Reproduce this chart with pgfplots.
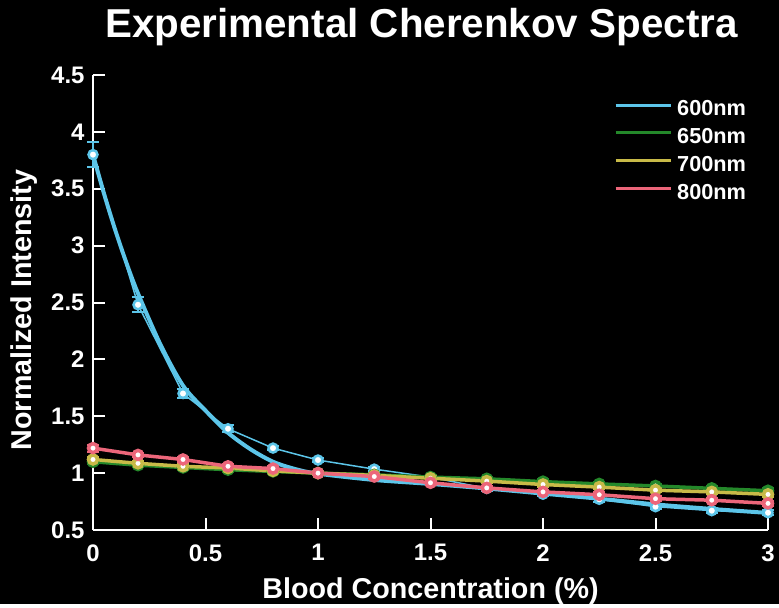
\documentclass[border=0pt]{standalone}
\usepackage{fontspec}
\setmainfont{Liberation Sans}
\usepackage{pgfplots}
\pgfplotsset{compat=1.18}
\definecolor{c600}{RGB}{92,197,233}
\definecolor{c650}{RGB}{36,136,42}
\definecolor{c700}{RGB}{200,186,72}
\definecolor{c800}{RGB}{236,102,122}
\pgfplotsset{
  errstyle/.style={error bars/y dir=both, error bars/y explicit,
    error bars/error bar style={line width=2bp, solid},
    error bars/error mark options={rotate=90, mark size=6bp, line width=2bp, solid}},
}
\begin{document}
\begin{tikzpicture}
\fill[black] (0,0) rectangle (779bp,604bp);
\begin{axis}[
  at={(93bp,74bp)}, anchor=south west,
  scale only axis, width=675bp, height=455bp,
  xmin=0, xmax=3, ymin=0.5, ymax=4.5,
  clip=false,
  axis lines*=left,
  axis line style={white, line width=2bp},
  xtick={0,0.5,1,1.5,2,2.5,3},
  ytick={0.5,1,1.5,2,2.5,3,3.5,4,4.5},
  tick style={white, line width=2bp},
  major tick length=12bp,
  tick align=inside,
  ticklabel style={white, font=\fontsize{24}{24}\selectfont\bfseries},
  xticklabel style={yshift=-11bp},
  yticklabel style={xshift=-5bp},
  /pgf/number format/assume math mode=true,
  xlabel={Blood Concentration (\%)},
  ylabel={Normalized Intensity},
  label style={white, font=\fontsize{28.8}{28.8}\selectfont\bfseries},
  xlabel style={at={(axis description cs:0.5,-0.1495)}, anchor=base},
  ylabel style={at={(axis description cs:-0.0904,0.4835)}, anchor=base},
  legend cell align=left,
  legend style={at={(axis description cs:0.7719,0.9440)}, anchor=north west,
    draw=none, fill=none, text=white,
    font=\fontsize{21.8}{21.8}\selectfont\bfseries,
    inner sep=0pt, nodes={inner sep=0pt, text height=15bp, text depth=0pt},
    row sep=12.8bp, /tikz/column sep=5bp},
  legend image code/.code={\draw[#1, line width=3bp] (0bp,3bp) -- (55bp,3bp);},
]
% 600 nm measured
\addplot[color=c600, line width=1.5bp, mark=*, mark size=4.5bp,
  mark options={fill=white, line width=2.5bp}, forget plot, errstyle]
  coordinates {
  (0,3.80) +- (0,0.11)
  (0.2,2.48) +- (0,0.065)
  (0.4,1.70) +- (0,0.04)
  (0.6,1.39) +- (0,0.03)
  (0.8,1.22) +- (0,0.02)
  (1.0,1.115) +- (0,0.02)
  (1.25,1.035) +- (0,0.02)
  (1.5,0.965) +- (0,0.02)
  (1.75,0.865) +- (0,0.02)
  (2.0,0.815) +- (0,0.02)
  (2.25,0.77) +- (0,0.02)
  (2.5,0.705) +- (0,0.02)
  (2.75,0.67) +- (0,0.02)
  (3.0,0.652) +- (0,0.02)
  };
% 600 nm fit
\addplot[color=c600, line width=4bp, smooth, no markers]
  coordinates {
  (0,3.80) (0.05,3.45) (0.1,3.13) (0.15,2.84) (0.2,2.58) (0.3,2.13)
  (0.4,1.77) (0.5,1.55) (0.6,1.355) (0.7,1.21) (0.8,1.10) (0.9,1.035)
  (1.0,0.995) (1.25,0.94) (1.5,0.905) (1.75,0.865) (2.0,0.82)
  (2.25,0.775) (2.5,0.725) (2.75,0.685) (3.0,0.65)
  };
\addlegendentry{600nm}
% 650 nm
\addplot[color=c650, line width=3.5bp, mark=*, mark size=4.5bp,
  mark options={fill=white, line width=3.5bp}, errstyle]
  coordinates {
  (0,1.10) +- (0,0.02)
  (0.2,1.07) +- (0,0.02)
  (0.4,1.05) +- (0,0.02)
  (0.6,1.03) +- (0,0.02)
  (0.8,1.015) +- (0,0.02)
  (1.0,1.0) +- (0,0.02)
  (1.25,0.985) +- (0,0.02)
  (1.5,0.965) +- (0,0.02)
  (1.75,0.95) +- (0,0.02)
  (2.0,0.925) +- (0,0.02)
  (2.25,0.905) +- (0,0.02)
  (2.5,0.887) +- (0,0.02)
  (2.75,0.866) +- (0,0.02)
  (3.0,0.845) +- (0,0.02)
  };
\addlegendentry{650nm}
% 700 nm
\addplot[color=c700, line width=3.5bp, mark=*, mark size=4.5bp,
  mark options={fill=white, line width=3.5bp}, errstyle]
  coordinates {
  (0,1.12) +- (0,0.02)
  (0.2,1.086) +- (0,0.02)
  (0.4,1.06) +- (0,0.02)
  (0.6,1.045) +- (0,0.02)
  (0.8,1.02) +- (0,0.02)
  (1.0,1.0) +- (0,0.02)
  (1.25,0.98) +- (0,0.02)
  (1.5,0.955) +- (0,0.02)
  (1.75,0.93) +- (0,0.02)
  (2.0,0.9) +- (0,0.02)
  (2.25,0.877) +- (0,0.02)
  (2.5,0.85) +- (0,0.02)
  (2.75,0.835) +- (0,0.02)
  (3.0,0.813) +- (0,0.02)
  };
\addlegendentry{700nm}
% 800 nm
\addplot[color=c800, line width=3.5bp, mark=*, mark size=4.5bp,
  mark options={fill=white, line width=3.5bp}, errstyle]
  coordinates {
  (0,1.22) +- (0,0.03)
  (0.2,1.16) +- (0,0.02)
  (0.4,1.12) +- (0,0.02)
  (0.6,1.06) +- (0,0.02)
  (0.8,1.04) +- (0,0.02)
  (1.0,1.0) +- (0,0.02)
  (1.25,0.97) +- (0,0.02)
  (1.5,0.915) +- (0,0.02)
  (1.75,0.87) +- (0,0.02)
  (2.0,0.835) +- (0,0.02)
  (2.25,0.81) +- (0,0.02)
  (2.5,0.775) +- (0,0.02)
  (2.75,0.762) +- (0,0.02)
  (3.0,0.734) +- (0,0.02)
  };
\addlegendentry{800nm}
\end{axis}
\node[white, anchor=base, font=\fontsize{40.5}{40.5}\selectfont\bfseries]
  at (421.5bp,566bp) {Experimental Cherenkov Spectra};
\end{tikzpicture}
\end{document}
